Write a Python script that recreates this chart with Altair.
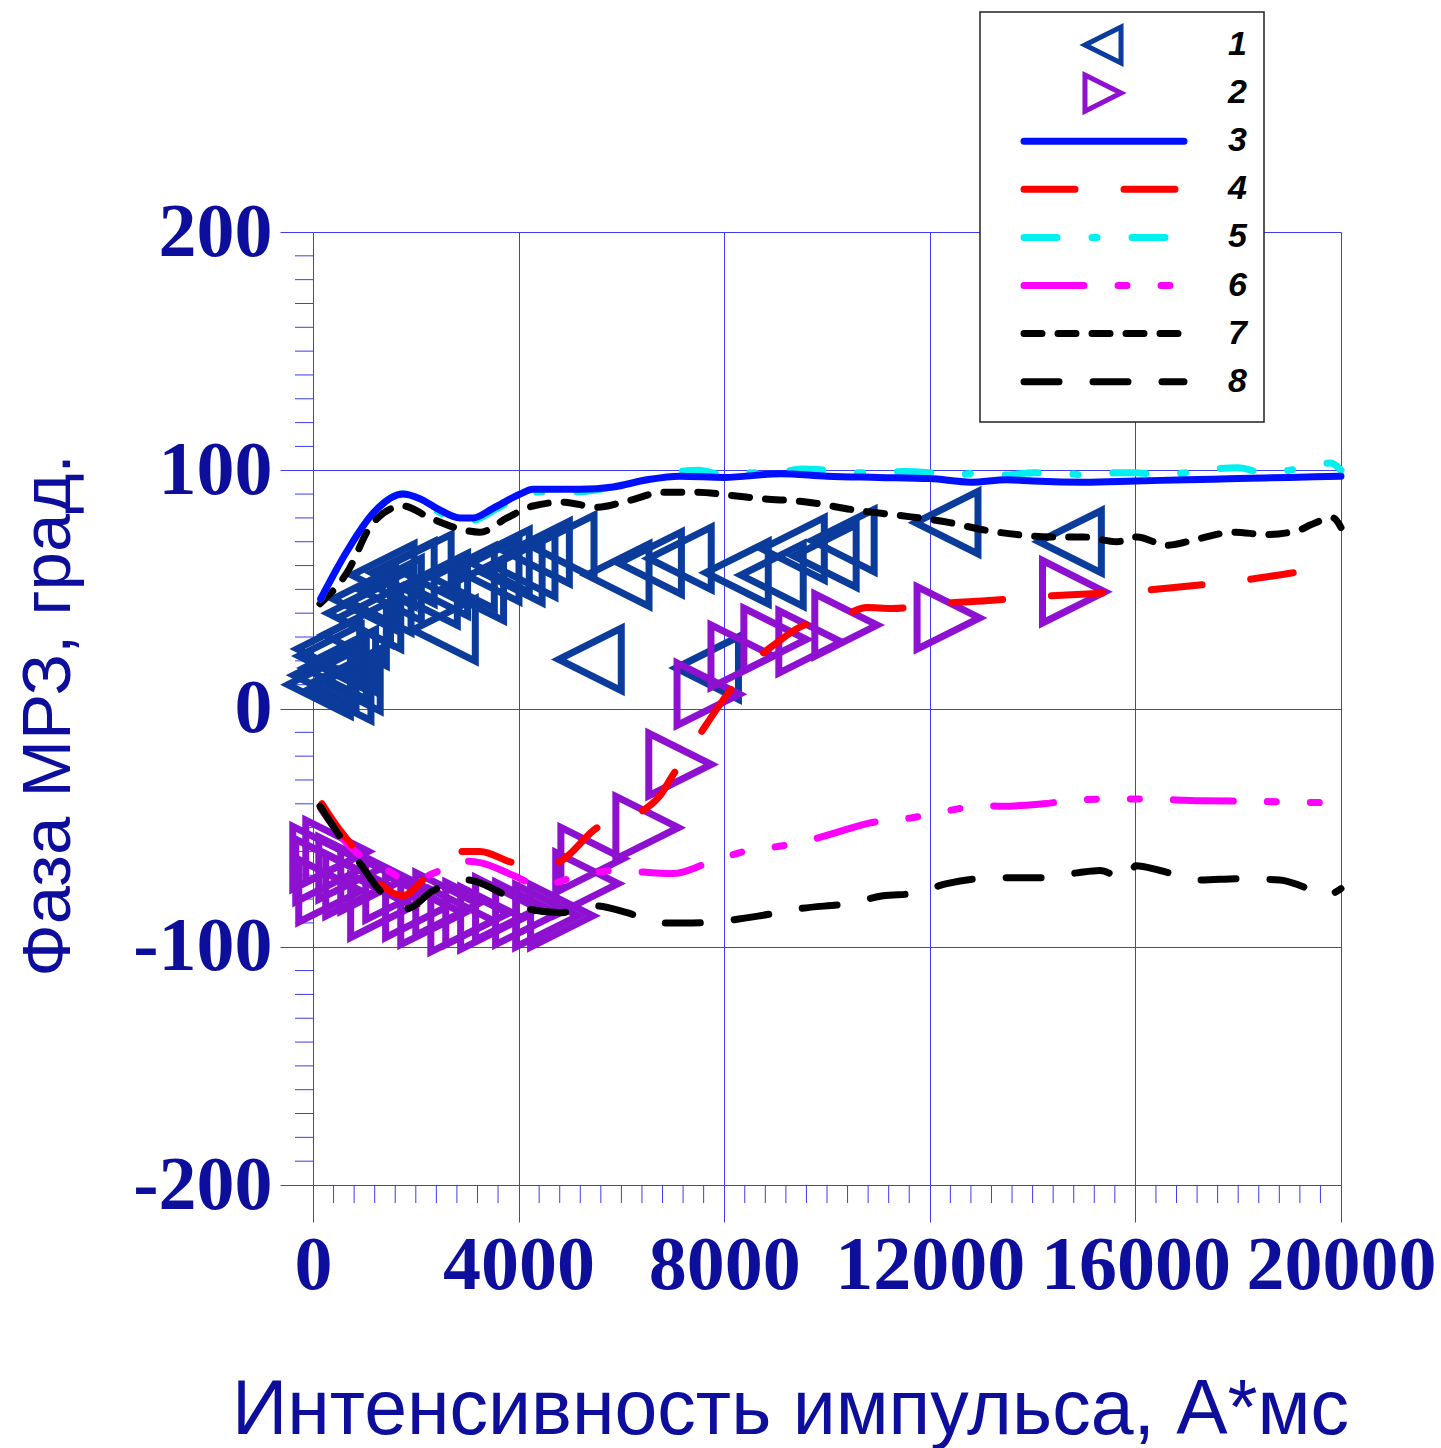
import altair as alt
import pandas as pd

# ---- data -------------------------------------------------------------
# 1: measured phase, triangle-left markers
s1_x = [230, 430, 120, 330, 520, 610, 300, 700, 820, 900, 1000, 1100, 1300, 1360, 1500,
        1750, 2080, 2200, 2400, 2550, 2920, 3100, 3400, 3600, 3850, 4100, 4380, 4860,
        5390, 5930, 6560, 7140, 7670, 8250, 8930, 9340, 9960, 10310, 12330, 14730]
s1_y = [14, 17, 10, 22, 8, 20, 25, 12, 31, 40, 46, 38, 45, 56, 50,
        57, 60, 48, 52, 33, 55, 50, 58, 62, 57.5, 60, 65.5, 68,
        20.6, 56, 61, 63, 17, 57, 56, 67, 64, 70.5, 78, 70]

# 2: measured phase, triangle-right markers
s2_x = [214, 272, 330, 467, 720, 856, 1148, 1340, 1634, 2020, 2315, 2607, 2900, 3190,
        3480, 3770, 4160, 4550, 4840, 5330, 5430, 6500, 7140, 7690, 8350, 8990, 9670,
        10370, 12360, 14800]
s2_y = [-62.6, -68, -76.5, -60, -67, -74, -72, -83, -75.6, -83, -86, -82, -89, -86,
        -88, -84, -86, -87, -87, -73.5, -63, -50, -23.5, 6, 22, 29, 28,
        35, 38, 49]

# 3: solid blue curve
s3_x = [150, 660, 1170, 1750, 2080, 2410, 2860, 3110, 3500, 4030, 4280, 5190, 5840, 6500,
        7140, 8000, 9090, 10000, 11000, 12000, 12800, 13500, 14000, 15000, 16000, 17000,
        18000, 19000, 20000]
s3_y = [46, 66, 82, 90, 88, 84, 80, 80, 84, 90, 92, 92, 93, 96,
        97.5, 97, 98.5, 97.5, 97, 96.5, 95, 96, 95.5, 95, 95.5, 96,
        96.5, 97, 97.5]

# 4: red long-dash curve
s4_x = [175, 486, 778, 1303, 1751, 2140, 2470, 2900, 3250, 3890, 4320, 4750, 5530, 6360,
        6750, 7000, 7490, 8070, 8640, 9030, 9420, 10310, 10780, 11260, 12200, 13230,
        14140, 15250, 16150, 17200, 18090, 19070]
s4_y = [-40, -50, -58, -73.5, -78.6, -72, -66, -60, -60, -64.7, -66, -64.7, -50, -43.7,
        -36.6, -28, -12, 6.3, 21, 27.7, 33.6, 39, 42.4, 42, 44, 45.4,
        47, 48.3, 49.6, 51.7, 53.8, 57]

# 5: cyan dash-dot curve
s5_x = [150, 660, 1170, 1750, 2080, 2410, 2860, 3110, 3500, 4030, 4500, 5190, 5840, 6500,
        7000, 7500, 8000, 8500, 9000, 9500, 10000, 10500, 11000, 11500, 12000, 12500,
        13000, 13500, 14000, 14500, 15000, 15500, 16000, 16500, 17000, 17500, 18000,
        18500, 19000, 19500, 19800, 20000]
s5_y = [46, 66, 82, 90, 88, 83, 79, 79, 83, 89, 91, 91, 93, 96,
        99, 100, 98, 99, 99, 100.5, 100, 99, 99, 99.5, 99, 98,
        99, 98, 99, 99, 98, 99, 99, 98, 99, 100.5, 101,
        99, 100, 102.5, 103, 100]

# 6: magenta dash-dot-dot curve
s6_x = [150, 820, 1300, 1890, 2470, 2860, 3250, 3890, 4420, 5000, 5840, 7000, 7670, 8440,
        9140, 9610, 10190, 10840, 11610, 12330, 13030, 13420, 14200, 14980, 16090,
        17260, 18420, 19590, 20000]
s6_y = [-42, -60, -66, -72, -68, -64, -64.7, -70, -74.4, -71.4, -68, -69.3, -65, -59.7,
        -57.6, -55.5, -52, -48, -46, -43, -40.8, -41, -40, -38.2, -38,
        -38.7, -39, -39.5, -38]

# 7: black short-dash curve
s7_x = [136, 661, 1167, 1751, 2276, 2918, 3249, 3774, 4280, 4864, 5525, 6167, 6809, 7471,
        8113, 8755, 9475, 10640, 11420, 12390, 13035, 13696, 14340, 14980, 15640, 16030,
        16610, 17260, 17900, 18560, 19200, 19400, 19840, 20000]
s7_y = [44, 57, 78, 85, 80, 75, 74, 80, 85, 86.6, 84.5, 87.4, 90.8, 90.8,
        89.5, 88, 87, 83, 81, 78, 75, 73, 72, 72, 70, 72,
        68.5, 71.4, 74, 73, 75, 77, 80, 76]

# 8: black dashed curve
s8_x = [136, 584, 914, 1303, 1830, 2330, 3000, 3580, 4160, 4810, 5450, 6110, 6750, 7390,
        8050, 8700, 9470, 10510, 11090, 11670, 12330, 12980, 13620, 14200, 14860, 15310,
        15820, 16010, 16480, 17260, 18030, 18810, 19400, 19690, 20000]
s8_y = [-41, -55.5, -65, -76.5, -84, -76.5, -72, -76.5, -84, -85.7, -82.8, -85.7, -90, -90,
        -89, -87, -84, -81.5, -78.6, -77.7, -73.5, -71.4, -71, -71, -69, -68,
        -72, -66, -68, -72, -71.4, -72, -76, -78.6, -75.6]

x_major = [0, 4000, 8000, 12000, 16000, 20000]
y_major = [-200, -100, 0, 100, 200]
x_minor = [v for v in range(0, 20001, 400) if v % 4000]
y_minor = [v for v in range(-200, 201, 10) if v % 100]

legend_labels = ["1", "2", "3", "4", "5", "6", "7", "8"]

# ---- styling ------------------------------------------------------------
W, H = 1028, 953
AXIS_BLUE = "#3c3cf2"
TEXT_BLUE = "#0e0e9c"
C1, C2 = "#0b3c9c", "#8e10d0"
LINE_W = 7

line_styles = {
    "3": dict(color="#0010ff", dash=None),
    "4": dict(color="#ff0000", dash=[51, 49]),
    "5": dict(color="#00f0f0", dash=[33, 35, 5, 35]),
    "6": dict(color="#ff00ff", dash=[60, 34, 9, 34, 9, 34]),
    "7": dict(color="#000000", dash=[18, 16]),
    "8": dict(color="#000000", dash=[35, 34]),
}
line_data = {
    "3": (s3_x, s3_y), "4": (s4_x, s4_y), "5": (s5_x, s5_y),
    "6": (s6_x, s6_y), "7": (s7_x, s7_y), "8": (s8_x, s8_y),
}

TRI_LEFT = "M-1,0L1,-1L1,1Z"
TRI_RIGHT = "M1,0L-1,-1L-1,1Z"

xscale = alt.Scale(domain=[0, 20000], nice=False, zero=False)
yscale = alt.Scale(domain=[-200, 200], nice=False, zero=False)

x_axis = alt.Axis(
    values=x_major, grid=True, gridColor=AXIS_BLUE, gridWidth=1,
    domainColor=AXIS_BLUE, tickColor=AXIS_BLUE, tickSize=37, tickWidth=1,
    labelFont="Liberation Serif", labelFontWeight="bold", labelFontSize=76,
    labelColor=TEXT_BLUE, labelPadding=6, labelFlush=False, labelOverlap=False,
    labelBound=False, labelLimit=0, labelExpr="'' + datum.value",
    title="Интенсивность импульса, А*мс", titleFont="Liberation Sans",
    titleFontSize=77, titleFontWeight="normal", titleColor=TEXT_BLUE,
    titleX=477, titleY=248, titleAlign="center", titleBaseline="alphabetic",
    titleLimit=0,
)
y_axis = alt.Axis(
    values=y_major, grid=True, gridColor=AXIS_BLUE, gridWidth=1,
    domainColor=AXIS_BLUE, tickColor=AXIS_BLUE, tickSize=33, tickWidth=1,
    labelFont="Liberation Serif", labelFontWeight="bold", labelFontSize=76,
    labelColor=TEXT_BLUE, labelPadding=8, labelFlush=False, labelOverlap=False,
    labelBound=False, labelLimit=0, labelExpr="'' + datum.value",
    title="Фаза МРЗ, град.", titleFont="Liberation Sans", titleFontSize=69,
    titleFontWeight="normal", titleColor=TEXT_BLUE, titleAngle=270,
    titleX=-244, titleY=483, titleAlign="center", titleBaseline="alphabetic",
    titleLimit=0,
)

layers = []

# minor ticks on both axes, placed through the shared scales
layers.append(
    alt.Chart(pd.DataFrame({"x": x_minor})).mark_rule(color=AXIS_BLUE, strokeWidth=1)
    .encode(x=alt.X("x:Q", scale=xscale, axis=x_axis), y=alt.value(H), y2=alt.value(H + 18))
)
layers.append(
    alt.Chart(pd.DataFrame({"y": y_minor})).mark_rule(color=AXIS_BLUE, strokeWidth=1)
    .encode(y=alt.Y("y:Q", scale=yscale, axis=y_axis), x=alt.value(-18), x2=alt.value(0))
)

# marker series
for xs, ys, shape, col in [(s1_x, s1_y, TRI_LEFT, C1), (s2_x, s2_y, TRI_RIGHT, C2)]:
    layers.append(
        alt.Chart(pd.DataFrame({"x": xs, "y": ys}))
        .mark_point(shape=shape, filled=False, size=3900, strokeWidth=7, color=col,
                    opacity=1, strokeJoin="miter")
        .encode(x=alt.X("x:Q", scale=xscale), y=alt.Y("y:Q", scale=yscale))
    )

# curves, drawn back to front
for key in ["6", "4", "8", "7", "5", "3"]:
    xs, ys = line_data[key]
    st = line_styles[key]
    kw = dict(color=st["color"], strokeWidth=LINE_W, strokeCap="round",
              strokeJoin="round", interpolate="monotone")
    if st["dash"]:
        kw["strokeDash"] = st["dash"]
    layers.append(
        alt.Chart(pd.DataFrame({"x": xs, "y": ys})).mark_line(**kw)
        .encode(x=alt.X("x:Q", scale=xscale), y=alt.Y("y:Q", scale=yscale))
    )

# legend box (positions relative to the plot origin)
LEG_L, LEG_R, LEG_T, LEG_B = 667, 951, -220, 190
ROW0, ROW_H = -187, 48.1
row_y = [ROW0 + i * ROW_H for i in range(8)]
LINE_X0, LINE_X1 = 711, 871
SYM_X = 790
LABEL_X = 934

layers.append(
    alt.Chart(pd.DataFrame({"k": [0]})).mark_rect(fill="white", stroke="#222222", strokeWidth=1.5)
    .encode(x=alt.value(LEG_L), x2=alt.value(LEG_R), y=alt.value(LEG_T), y2=alt.value(LEG_B))
)
layers.append(
    alt.Chart(pd.DataFrame({"k": [0]}))
    .mark_point(shape=TRI_LEFT, filled=False, size=1300, strokeWidth=5, color=C1, opacity=1)
    .encode(x=alt.value(SYM_X), y=alt.value(row_y[0]))
)
layers.append(
    alt.Chart(pd.DataFrame({"k": [0]}))
    .mark_point(shape=TRI_RIGHT, filled=False, size=1300, strokeWidth=5, color=C2, opacity=1)
    .encode(x=alt.value(SYM_X), y=alt.value(row_y[1]))
)
for i, key in enumerate(["3", "4", "5", "6", "7", "8"]):
    st = line_styles[key]
    kw = dict(color=st["color"], strokeWidth=LINE_W, strokeCap="round")
    if st["dash"]:
        kw["strokeDash"] = st["dash"]
    layers.append(
        alt.Chart(pd.DataFrame({"k": [0]})).mark_rule(**kw)
        .encode(x=alt.value(LINE_X0), x2=alt.value(LINE_X1), y=alt.value(row_y[i + 2]))
    )
for i, lab in enumerate(legend_labels):
    layers.append(
        alt.Chart(pd.DataFrame({"k": [0]}))
        .mark_text(text=lab, font="Liberation Sans", fontSize=34, fontStyle="italic",
                   fontWeight="bold", color="black", align="right", baseline="middle")
        .encode(x=alt.value(LABEL_X), y=alt.value(row_y[i]))
    )

chart = (
    alt.layer(*layers)
    .properties(
        width=W, height=H,
        autosize=alt.AutoSizeParams(type="none"),
        padding={"left": 313, "top": 232, "right": 100, "bottom": 263},
        background="white",
    )
    .configure_view(stroke=None)
)

chart.save("out.html", embed_options={"renderer": "svg", "actions": False})
